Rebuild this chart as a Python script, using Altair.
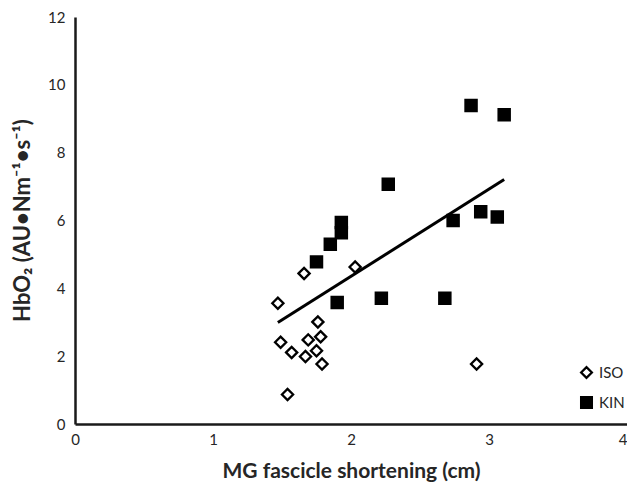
import altair as alt
import pandas as pd

# ISO (open diamonds)
iso_x = [1.47, 1.66, 2.03, 1.76, 1.49, 1.69, 1.78, 1.57, 1.67, 1.75, 1.79, 1.54, 2.91]
iso_y = [3.56, 4.44, 4.63, 3.01, 2.41, 2.48, 2.57, 2.11, 1.99, 2.16, 1.77, 0.87, 1.77]
# KIN (filled squares)
kin_x = [1.75, 1.85, 1.93, 1.93, 1.90, 2.22, 2.27, 2.68, 2.74, 2.87, 2.94, 3.06, 3.11]
kin_y = [4.78, 5.30, 5.94, 5.64, 3.58, 3.71, 7.07, 3.71, 6.00, 9.39, 6.26, 6.10, 9.12]
# fitted line end points
fit_x = [1.47, 3.11]
fit_y = [2.99, 7.21]

groups = ["ISO", "KIN"]
x_ticks = [0, 1, 2, 3, 4]
y_ticks = [0, 2, 4, 6, 8, 10, 12]

pts = pd.DataFrame({
    "x": iso_x + kin_x,
    "y": iso_y + kin_y,
    "group": [groups[0]] * len(iso_x) + [groups[1]] * len(kin_x),
})
fit = pd.DataFrame({"x": fit_x, "y": fit_y})

font = "Lato"
txt = "#262626"
xscale = alt.Scale(domain=[0, 4], nice=False, zero=False)
yscale = alt.Scale(domain=[0, 12], nice=False, zero=False)

xaxis = alt.Axis(
    title="MG fascicle shortening (cm)", values=x_ticks, format="d", grid=False, ticks=False,
    domainColor="#1a1a1a", domainWidth=2.5, labelFont=font, labelFontSize=15,
    labelColor=txt, labelPadding=8, labelFlush=False,
    labelAlign={"condition": {"test": "datum.value == 4", "value": "right"}, "value": "center"},
    titleFont=font, titleFontSize=21, titleFontWeight="bold", titleColor=txt,
    titleY=53, titleBaseline="alphabetic",
)
yaxis = alt.Axis(
    title="HbO₂ (AU•Nm⁻¹•s⁻¹)", values=y_ticks, format="d", grid=False, ticks=False,
    domainColor="#1a1a1a", domainWidth=2.5, labelFont=font, labelFontSize=15,
    labelColor=txt, labelPadding=10,
    titleFont=font, titleFontSize=22, titleFontWeight="bold", titleColor=txt,
    titleX=-53, titleY=203, titleAngle=270, titleBaseline="middle", titleAlign="center",
)

points = alt.Chart(pts).mark_point(opacity=1, strokeWidth=2.3).encode(
    x=alt.X("x:Q", scale=xscale, axis=xaxis),
    y=alt.Y("y:Q", scale=yscale, axis=yaxis),
    shape=alt.Shape("group:N", scale=alt.Scale(domain=groups, range=["diamond", "square"]),
                    legend=alt.Legend(title=None)),
    fill=alt.Fill("group:N", scale=alt.Scale(domain=groups, range=["white", "black"]),
                  legend=alt.Legend(title=None)),
    stroke=alt.Stroke("group:N", scale=alt.Scale(domain=groups, range=["black", "black"]),
                      legend=alt.Legend(title=None)),
    size=alt.value(125),
)

line = alt.Chart(fit).mark_line(color="black", strokeWidth=3).encode(
    x=alt.X("x:Q", scale=xscale),
    y=alt.Y("y:Q", scale=yscale),
)

chart = (line + points).properties(
    width=552, height=407,
    autosize=alt.AutoSizeParams(type="none"),
    padding={"left": 67, "top": 9, "right": 0, "bottom": 58},
).configure_view(stroke=None).configure_legend(
    orient="none", legendX=504, legendY=348, padding=0,
    labelFont=font, labelFontSize=15, labelColor=txt, labelOffset=5,
    symbolSize=115, symbolStrokeWidth=2.3,
    rowPadding=9, symbolOpacity=1,
)

chart.save("out.html", embed_options={"renderer": "svg", "actions": False})
